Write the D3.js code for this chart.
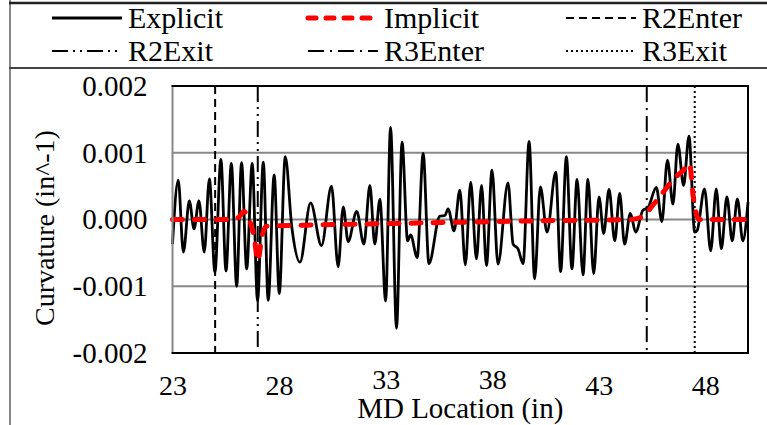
<!DOCTYPE html>
<html lang="en">
<head>
<meta charset="utf-8">
<title>Curvature vs MD Location</title>
<style>
    body { margin: 0; background: #fff; }
    text { font-family: 'Liberation Serif', 'Times New Roman', serif; fill: #000; }
</style>
<script src="https://cdn.jsdelivr.net/npm/d3@7"></script>
</head>
<body>
<script>
// ---- data ----
var explicitX = [23.0, 23.27, 23.51, 23.79, 24.01, 24.24, 24.49, 24.73, 24.99, 25.27, 25.51, 25.76, 26.01, 26.24, 26.48, 26.74, 26.99, 27.26, 27.49, 27.77,
    28.01, 28.29, 28.6, 28.98, 29.48, 29.99, 30.46, 30.77, 31.01, 31.24, 31.64, 31.98, 32.26, 32.49, 32.73, 33.0, 33.23, 33.51, 33.77, 34.03,
    34.17, 34.48, 34.76, 35.03, 35.54, 35.78, 35.93, 36.21, 36.48, 36.74, 36.99, 37.26, 37.5, 37.73, 37.99, 38.27, 38.74, 38.98, 39.21, 39.45,
    39.73, 39.99, 40.26, 40.57, 40.98, 41.21, 41.48, 41.74, 41.98, 42.26, 42.49, 42.76, 43.01, 43.23, 43.48, 43.75, 43.98, 44.21, 44.48, 44.73,
    45.07, 45.31, 45.7, 45.96, 46.22, 46.48, 46.71, 46.98, 47.23, 47.5, 47.62, 47.96, 48.25, 48.51, 48.75, 49.01, 49.26, 49.5, 49.76, 50.0];
var explicitY = [-0.00037, 0.00059, -0.00049, 0.00028, -0.00014, 0.00028, -0.00049, 0.00061, -0.00079, 0.0009, -0.00077, 0.00084, -0.001, 0.00085, -0.00074, 0.00084, -0.00122, 0.00086, -0.00121, 0.00067,
    -0.00111, 0.00094, -0.00012, -0.00064, 0.00025, -0.00039, 0.0005, -0.00071, 0.00019, -0.00033, 0.00012, -0.00037, 0.00051, -0.00037, 0.0003, -0.00122, 0.00138, -0.00163, 0.00116, -0.00032,
    -0.00023, -0.00057, 0.00099, -0.00066, 0.00005, 0.00006, 0.00016, -0.00017, 0.00044, -0.00068, 0.00056, -0.00059, 0.00051, -0.00069, 0.00074, -0.00067, 0.00055, -0.00037, -0.00044, -0.00066,
    0.00117, -0.00089, 0.00049, -0.00019, 0.00071, -0.00078, 0.00094, -0.00074, 0.0006, -0.00083, 0.0006, -0.00081, 0.00034, -0.00021, 0.00045, -0.00032, 0.00039, -0.00037, 0.00009, -0.00019,
    0.00014, 0.00018, 0.00048, -0.00003, 0.00089, 0.00023, 0.00113, 0.00051, 0.00125, -0.00019, -0.00016, 0.00046, -0.00047, 0.00046, -0.00044, 0.00034, -0.00032, 0.00031, -0.00032, 0.00026];

var implicitX = [23.0, 25.8, 26.1, 26.35, 26.6, 26.85, 27.0, 27.2, 27.4, 30.0, 35.0, 40.0, 44.5, 45.1, 45.5, 46.0, 46.5, 47.0, 47.25, 47.45, 47.7, 50.0];
var implicitY = [0, 0, 0.00003, 0.00012, 0.0, -0.0003, -0.00062, -0.00025, -0.0001, -0.00008, -0.00005, -0.00002, 0, 0.00005, 0.0002, 0.0004, 0.0006, 0.00075, 0.00084, 0.0003, 0, 0];

var markerNames = ["R2Enter", "R2Exit", "R3Enter", "R3Exit"];
var markerX = [25.0, 27.0, 45.25, 47.5];

var xTicks = [23, 28, 33, 38, 43, 48];
var yTicks = [-0.002, -0.001, 0, 0.001, 0.002];
var yTickLabels = ["-0.002", "-0.001", "0.000", "0.001", "0.002"];

// ---- layout ----
var svgW = 767, svgH = 425;
var plotL = 172.5, plotR = 748, plotT = 86, plotB = 353;
var dashes = {
    "R2Enter": "8,5",
    "R2Exit": "16,5,2,5,2,5",
    "R3Enter": "16,6,2,6",
    "R3Exit": "2,3"
};

var svg = d3.select("body").append("svg")
    .attr("width", svgW)
    .attr("height", svgH);

var x = d3.scaleLinear().domain([23, 50]).range([plotL, plotR]);
var y = d3.scaleLinear().domain([-0.002, 0.002]).range([plotB, plotT]);

/* OUTER FRAME + LEGEND BOX */
svg.append("line").attr("x1", 10).attr("x2", 10).attr("y1", 0).attr("y2", svgH)
    .attr("stroke", "#888").attr("stroke-width", 2);
svg.append("line").attr("x1", 9).attr("x2", svgW).attr("y1", 3).attr("y2", 3)
    .attr("stroke", "#222").attr("stroke-width", 2.5);
svg.append("line").attr("x1", 9).attr("x2", svgW).attr("y1", 68).attr("y2", 68)
    .attr("stroke", "#444").attr("stroke-width", 2);

var legendItems = [
    { name: "Explicit", lx: 52, row: 0, color: "#000", width: 2.8, dash: null },
    { name: "Implicit", lx: 308, row: 0, color: "#f00", width: 5, dash: "8,10" },
    { name: "R2Enter", lx: 566, row: 0, color: "#000", width: 2, dash: dashes["R2Enter"] },
    { name: "R2Exit", lx: 52, row: 1, color: "#000", width: 2, dash: dashes["R2Exit"] },
    { name: "R3Enter", lx: 308, row: 1, color: "#000", width: 2, dash: dashes["R3Enter"] },
    { name: "R3Exit", lx: 566, row: 1, color: "#000", width: 2, dash: dashes["R3Exit"] }
];

legendItems.forEach(function (d) {
    var cy = 18 + d.row * 33;
    var ln = svg.append("line")
        .attr("x1", d.lx).attr("x2", d.lx + 70)
        .attr("y1", cy).attr("y2", cy)
        .attr("stroke", d.color)
        .attr("stroke-width", d.width);
    if (d.dash) ln.attr("stroke-dasharray", d.dash);
    if (d.name === "Implicit") ln.attr("stroke-linecap", "round");
    svg.append("text")
        .attr("x", d.lx + 76)
        .attr("y", cy + 10)
        .attr("font-size", 30)
        .text(d.name);
});

/* GRIDLINES */
svg.append("g").selectAll("line")
    .data([-0.001, 0, 0.001])
    .enter().append("line")
    .attr("x1", plotL).attr("x2", plotR)
    .attr("y1", function (d) { return y(d); })
    .attr("y2", function (d) { return y(d); })
    .attr("stroke", "#888")
    .attr("stroke-width", 2);

/* MARKER LINES */
markerNames.forEach(function (name, i) {
    svg.append("line")
        .attr("x1", x(markerX[i])).attr("x2", x(markerX[i]))
        .attr("y1", plotT).attr("y2", plotB)
        .attr("stroke", "#000")
        .attr("stroke-width", 2)
        .attr("stroke-dasharray", dashes[name]);
});

/* SERIES */
var line = d3.line()
    .x(function (d) { return x(d[0]); })
    .y(function (d) { return y(d[1]); })
    .curve(d3.curveMonotoneX);

svg.append("path")
    .datum(d3.zip(explicitX, explicitY))
    .attr("d", line)
    .attr("fill", "none")
    .attr("stroke", "#000")
    .attr("stroke-width", 2.8);

svg.append("path")
    .datum(d3.zip(implicitX, implicitY))
    .attr("d", line)
    .attr("fill", "none")
    .attr("stroke", "#f00")
    .attr("stroke-width", 5)
    .attr("stroke-linecap", "round")
    .attr("stroke-dasharray", "10,12");

/* PLOT BORDER */
svg.append("line").attr("x1", plotL).attr("x2", plotL).attr("y1", plotT).attr("y2", plotB)
    .attr("stroke", "#888").attr("stroke-width", 2);
svg.append("line").attr("x1", plotL - 1).attr("x2", plotR + 1).attr("y1", plotT).attr("y2", plotT)
    .attr("stroke", "#000").attr("stroke-width", 2);
svg.append("line").attr("x1", plotL - 1).attr("x2", plotR + 1).attr("y1", plotB).attr("y2", plotB)
    .attr("stroke", "#000").attr("stroke-width", 2);
svg.append("line").attr("x1", plotR).attr("x2", plotR).attr("y1", plotT).attr("y2", plotB)
    .attr("stroke", "#000").attr("stroke-width", 2);

/* AXES */
var xAxis = d3.axisBottom(x).tickValues(xTicks).tickSize(0).tickPadding(22)
    .tickFormat(d3.format("d"));
var gx = svg.append("g").attr("transform", "translate(0," + plotB + ")").call(xAxis);
gx.select(".domain").remove();
gx.selectAll("text").attr("font-size", 28).attr("font-family", "Liberation Serif");
// Excel nudged the two middle labels up above the axis title
gx.selectAll(".tick text")
    .filter(function (d) { return d === 33 || d === 38; })
    .attr("y", 16);

var yAxis = d3.axisLeft(y).tickValues(yTicks).tickSize(0).tickPadding(25)
    .tickFormat(function (d, i) { return yTickLabels[i]; });
var gy = svg.append("g").attr("transform", "translate(" + plotL + ",0)").call(yAxis);
gy.select(".domain").remove();
gy.selectAll("text").attr("font-size", 29).attr("font-family", "Liberation Serif");

svg.append("text")
    .attr("x", (plotL + plotR) / 2)
    .attr("y", 418)
    .attr("text-anchor", "middle")
    .attr("font-size", 29)
    .text("MD Location (in)");

svg.append("text")
    .attr("transform", "translate(54,228) rotate(-90)")
    .attr("text-anchor", "middle")
    .attr("font-size", 28)
    .text("Curvature (in^-1)");
</script>
</body>
</html>
